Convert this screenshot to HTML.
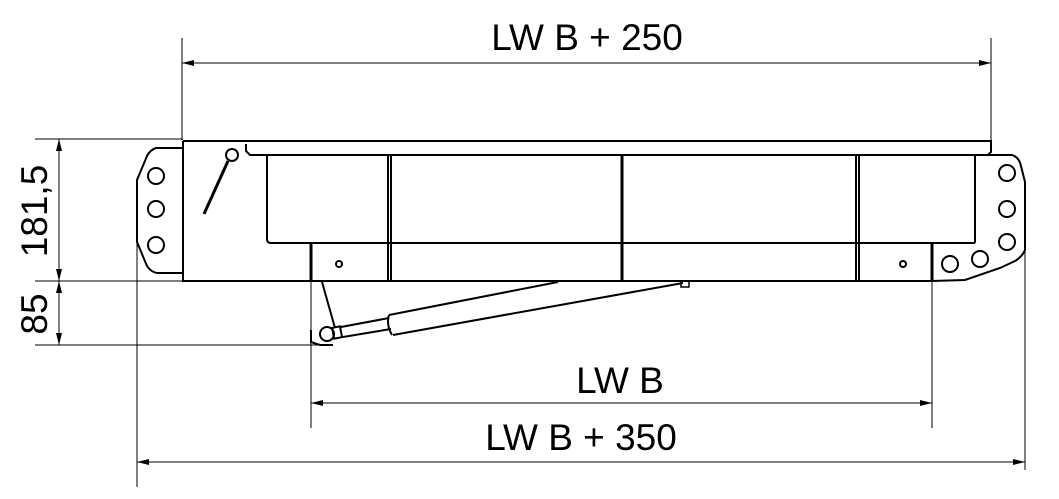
<!DOCTYPE html>
<html><head><meta charset="utf-8"><style>
html,body{margin:0;padding:0;background:#fff;}
svg{display:block}
text{font-family:"Liberation Sans",Arial,sans-serif;fill:#000}
</style></head><body>
<svg width="1059" height="499" viewBox="0 0 1059 499" xmlns="http://www.w3.org/2000/svg">
<defs>
<marker id="a" viewBox="0 0 12 6" refX="12" refY="3" markerWidth="12" markerHeight="6" orient="auto" markerUnits="userSpaceOnUse"><path d="M0,0 L12,3 L0,6 Z" fill="#000"/></marker>
</defs>
<g stroke="#000" stroke-width="1" fill="none">
<line x1="182" y1="38" x2="182" y2="140"/>
<line x1="991" y1="38" x2="991" y2="140"/>
<line x1="35" y1="139" x2="183" y2="139"/>
<line x1="35" y1="281" x2="183" y2="281"/>
<line x1="35" y1="345" x2="322" y2="345"/>
<line x1="137" y1="242" x2="137" y2="487"/>
<line x1="1025" y1="250" x2="1025" y2="470"/>
<line x1="311" y1="281" x2="311" y2="428"/>
<line x1="932" y1="281" x2="932" y2="428"/>
<line x1="182" y1="63" x2="991" y2="63" marker-end="url(#a)"/>
<line x1="991" y1="63" x2="182" y2="63" marker-end="url(#a)"/>
<line x1="311" y1="403" x2="932" y2="403" marker-end="url(#a)"/>
<line x1="932" y1="403" x2="311" y2="403" marker-end="url(#a)"/>
<line x1="137" y1="462" x2="1025" y2="462" marker-end="url(#a)"/>
<line x1="1025" y1="462" x2="137" y2="462" marker-end="url(#a)"/>
<line x1="59" y1="139" x2="59" y2="281" marker-end="url(#a)"/>
<line x1="59" y1="281" x2="59" y2="139" marker-end="url(#a)"/>
<line x1="59" y1="281" x2="59" y2="345" marker-end="url(#a)"/>
<line x1="59" y1="345" x2="59" y2="281" marker-end="url(#a)"/>
</g>
<g stroke="#000" stroke-width="2" fill="none">
<path d="M183,141 L991,141 L991,152 L988,155 L250,155 L246,151 L246,144"/>
<path d="M183,141 L183,281 L932,281"/>
<path d="M183,148 L156,148 Q150,150 147,156 L137,180 L137,242 L147,266 Q151,272 157,273 L183,273"/>
<circle cx="156" cy="176" r="8"/><circle cx="156" cy="209" r="8"/><circle cx="156" cy="245" r="8"/>
<circle cx="232" cy="155" r="6"/>
<line x1="228" y1="161" x2="204" y2="214" stroke-width="3"/>
<path d="M267,155 L267,239 Q267,243 271,243 L975,243"/>
<line x1="975" y1="155" x2="975" y2="243"/>
<line x1="388" y1="155" x2="388" y2="281"/>
<line x1="391" y1="155" x2="391" y2="281"/>
<line x1="622" y1="155" x2="622" y2="281" stroke-width="3"/>
<line x1="856" y1="155" x2="856" y2="281"/>
<line x1="859" y1="155" x2="859" y2="281"/>
<line x1="311" y1="243" x2="311" y2="281" stroke-width="3"/>
<line x1="932" y1="243" x2="932" y2="281" stroke-width="3"/>
<circle cx="339" cy="264" r="3"/><circle cx="903" cy="264" r="3"/>
<path d="M975,155 L1012,155 Q1019,157 1021,166 L1025,182 L1025,250 Q1022,257 1015,261 L1000,268 L965,280 L932,281"/>
<circle cx="1007" cy="173" r="8"/><circle cx="1007" cy="209" r="8"/><circle cx="1007" cy="242" r="8"/>
<circle cx="980" cy="259" r="8"/><circle cx="950" cy="264" r="8"/>
<line x1="322" y1="282" x2="335" y2="328"/>
<circle cx="327" cy="334" r="7"/>
<path d="M311,330 L311,342 L320,345 L333,345"/>
<rect x="333" y="327" width="8" height="11" transform="rotate(-11 337 332)"/>
<path d="M341,327 L389,318 M343,337 L391,329"/>
<path d="M389,315 L558,282 M393,335 L683,283 M389,315 Q386,325 392,335"/>
<rect x="681" y="281" width="8" height="6" stroke-width="1.5"/>
</g>
<text x="587" y="50" font-size="37" text-anchor="middle">LW B + 250</text>
<text x="620" y="393" font-size="37" text-anchor="middle">LW B</text>
<text x="581" y="450" font-size="37" text-anchor="middle">LW B + 350</text>
<text transform="translate(47,211) rotate(-90)" font-size="37" text-anchor="middle">181,5</text>
<text transform="translate(47,314) rotate(-90)" font-size="37" text-anchor="middle">85</text>
</svg>
</body></html>
